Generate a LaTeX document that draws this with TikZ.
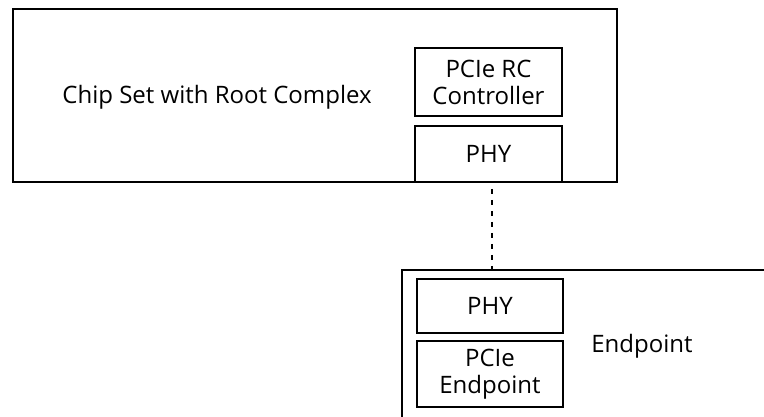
\documentclass[tikz,border=0pt]{standalone}
\usepackage{fontspec}
\setmainfont{Open Sans}
\begin{document}
\begin{tikzpicture}[x=1pt,y=-1pt,
  box/.style={draw=black, line width=1.8pt, inner sep=0pt, align=center,
    font=\fontsize{24}{27}\selectfont},
  lbl/.style={inner sep=0pt, font=\fontsize{24}{27}\selectfont},
  link/.style={draw=black, line width=2pt, dash pattern=on 5pt off 6pt, dash phase=5pt}]
\useasboundingbox (0,0) rectangle (764,417);
% Root complex side
\node[box, minimum width=604pt, minimum height=173pt] (chip) at (315,95.5) {};
\node[lbl] (chiplbl) at (217,97) {Chip Set with Root Complex};
\node[box, minimum width=147pt, minimum height=68pt] (rc) at (488.5,82) {PCIe RC\\Controller};
\node[box, minimum width=147pt, minimum height=56pt] (phya) at (488.5,154) {PHY};
% Endpoint side (its frame runs past the page edge)
\begin{scope}
  \clip (0,0) rectangle (764,417);
  \node[box, minimum width=500pt, minimum height=240pt, anchor=north west] (ep) at (401,269) {};
\end{scope}
\node[box, minimum width=146pt, minimum height=54pt] (phyb) at (490,306) {PHY};
\node[box, minimum width=146pt, minimum height=66pt] (pep) at (490,374) {PCIe\\Endpoint};
\node[lbl] (eplbl) at (642,346) {Endpoint};
% Serial link between the two PHYs
\draw[link] ([xshift=3.5pt]phya.south) -- ([xshift=3.5pt]phya.south |- ep.north);
\end{tikzpicture}
\end{document}
